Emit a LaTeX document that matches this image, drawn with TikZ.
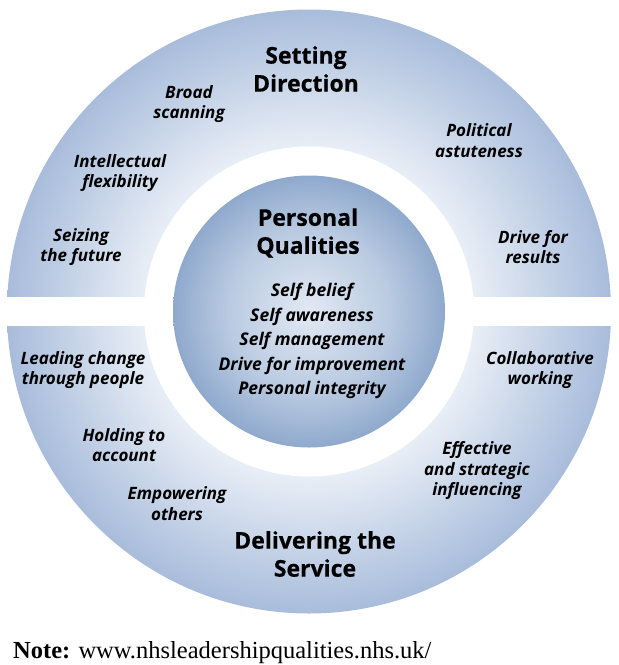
\documentclass[tikz,border=0pt]{standalone}
\usepackage{fontspec}
\setmainfont{Open Sans}[BoldFeatures={FakeBold=0.6}]
\newfontfamily\notefont{Liberation Serif}
\definecolor{ringdark}{HTML}{A8BCDB}
\definecolor{ringlight}{HTML}{E8EEF6}
\definecolor{coredark}{HTML}{8FA9CD}
\definecolor{coremid}{HTML}{B9CAE1}
\definecolor{corelight}{HTML}{E2E9F3}
\pgfdeclareradialshading{ringshade}{\pgfpoint{0bp}{0bp}}{color(0bp)=(ringlight); color(13.7bp)=(ringlight); color(25bp)=(ringdark); color(50bp)=(ringdark)}
\pgfdeclareradialshading{coreshade}{\pgfpoint{0bp}{0bp}}{color(0bp)=(corelight); color(15bp)=(coremid); color(25bp)=(coredark); color(50bp)=(coredark)}
\begin{document}
\begin{tikzpicture}[x=1pt, y=-1pt,
  head/.style={font=\fontsize{23}{28}\selectfont\bfseries, align=center, inner sep=0pt},
  item/.style={font=\fontsize{17}{20.5}\selectfont\bfseries\itshape, align=center, inner sep=0pt},
  core/.style={font=\fontsize{17.5}{24.5}\selectfont\bfseries\itshape, align=center, inner sep=0pt}]
\useasboundingbox (0,0) rectangle (619,665);
\coordinate (c) at (309,311.5);
% rings and core
\shade[shading=ringshade] (c) circle [radius=302pt];
\fill[white] (c) circle [radius=165pt];
\fill[white] (0,297) rectangle (619,326);
\shade[shading=coreshade] (c) circle [radius=136pt];
% setting direction
\node[head] (setdir) at (306,69) {Setting\\Direction};
\node[item] (broad) at (189,104) {Broad\\scanning};
\node[item] (polit) at (479,140.5) {Political\\astuteness};
\node[item] (intel) at (120,173) {Intellectual\\flexibility};
\node[item] (seize) at (81,247) {Seizing\\the future};
\node[item] (drive) at (533,247) {Drive for\\results};
% personal qualities
\node[head] (persq) at (308,233) {Personal\\Qualities};
\node[core] (coreitems) at (312,341) {Self belief\\Self awareness\\Self management\\Drive for improvement\\Personal integrity};
% delivering the service
\node[item] (lead) at (83,370) {Leading change\\through people};
\node[item] (collab) at (540,370) {Collaborative\\working};
\node[item] (hold) at (124,445) {Holding to\\account};
\node[item] (effect) at (477,471) {Effective\\and strategic\\influencing};
\node[item] (empow) at (177,503.5) {Empowering\\others};
\node[head] (deliv) at (315,554) {Delivering the\\Service};
% note
\node[anchor=base west, inner sep=0pt, font=\notefont\fontsize{24.5}{28}\selectfont] (note) at (13,658.5) {\textbf{Note:} www.nhsleadershipqualities.nhs.uk/};
\end{tikzpicture}
\end{document}
